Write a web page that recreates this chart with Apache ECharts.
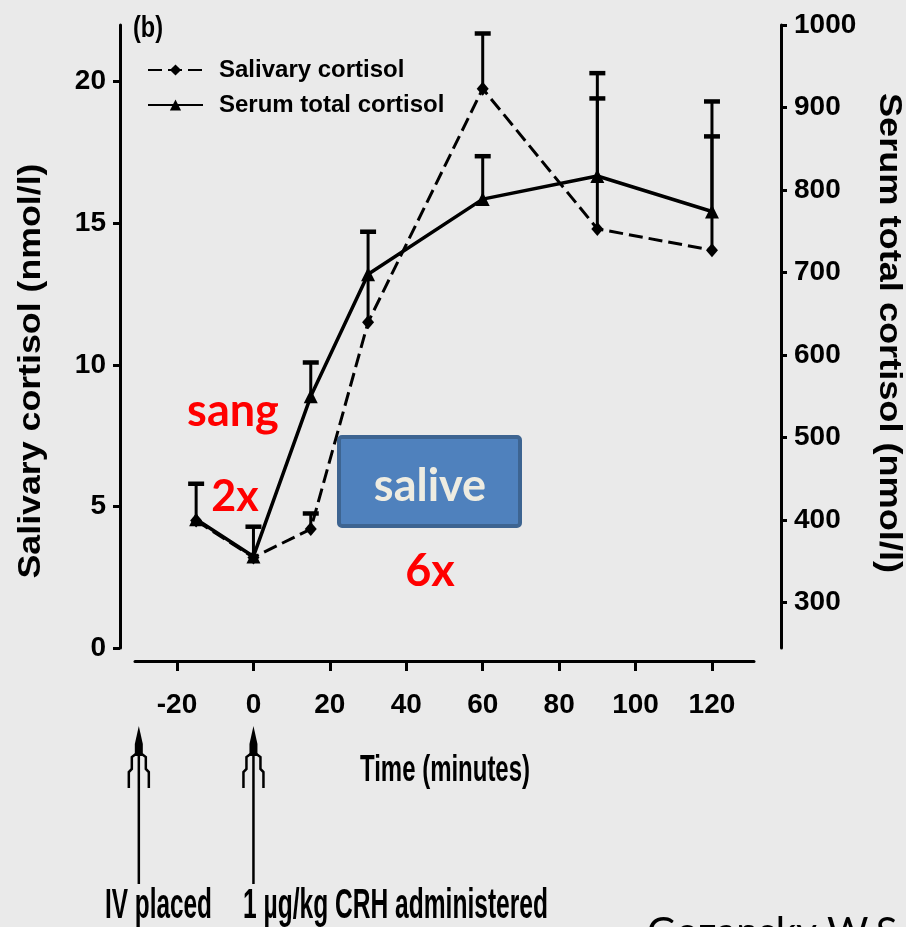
<!DOCTYPE html>
<html>
<head>
<meta charset="utf-8">
<title>Salivary and serum cortisol after CRH</title>
<style>
  html, body { margin: 0; padding: 0; background: #eaeaea; }
  #chart { width: 906px; height: 927px; }
</style>
<script src="https://cdn.jsdelivr.net/npm/echarts@6/dist/echarts.min.js"></script>
</head>
<body>
<div id="chart"></div>
<script>
// Sampling times (minutes relative to CRH injection)
const times = [-15, 0, 15, 30, 60, 90, 120];

// Salivary cortisol, nmol/l (mean and top of the error bar)
const salivaryMean  = [4.5, 3.2, 4.2, 11.5, 19.75, 14.8, 14.05];
const salivaryUpper = [5.8, null, 4.75, 14.7, 21.7, 20.3, 19.3];

// Serum total cortisol, nmol/l (mean and top of the error bar)
const serumMean  = [401, 356, 550, 698, 789, 817, 774];
const serumUpper = [null, 392, 591, null, 841, 911, 865];

// Tick labels
const timeTicks     = [-20, 0, 20, 40, 60, 80, 100, 120];
const salivaryTicks = [0, 5, 10, 15, 20];
const serumTicks    = [300, 400, 500, 600, 700, 800, 900, 1000];

// Protocol events shown under the time axis
const eventTimes  = [-30, 0];
const eventLabels = ['IV placed', '1 \u00b5g/kg CRH administered'];

const baseFont  = "'Liberation Sans',Arial,sans-serif";
const annotFont = "Lato,'Open Sans',sans-serif";

function pairs(xs, ys) {
  return xs.map((x, i) => [x, ys[i]]);
}
function barData(xs, lo, hi) {
  return xs.map((x, i) => [x, lo[i], hi[i]]).filter(d => d[2] != null);
}

// Upper-only error bar with a flat cap
function errorBar(params, api) {
  const x = api.value(0);
  const lo = api.coord([x, api.value(1)]);
  const hi = api.coord([x, api.value(2)]);
  const half = 8;
  return {
    type: 'group',
    children: [
      { type: 'line', shape: { x1: lo[0], y1: lo[1], x2: hi[0], y2: hi[1] },
        style: { stroke: '#000', lineWidth: 3 } },
      { type: 'line', shape: { x1: hi[0] - half, y1: hi[1], x2: hi[0] + half, y2: hi[1] },
        style: { stroke: '#000', lineWidth: 4.5 } }
    ]
  };
}

const axisText = {
  color: '#000', fontFamily: baseFont, fontSize: 28, fontWeight: 'bold',
  formatter: v => String(v)
};

const chart = echarts.init(document.getElementById('chart'), null, { renderer: 'canvas' });

const option = {
  backgroundColor: '#eaeaea',
  animation: false,
  grid: { left: 135, right: 152, top: 25, bottom: 279, outerBoundsMode: 'none' },
  legend: {
    orient: 'vertical',
    left: 142,
    top: 50,
    itemWidth: 55,
    itemHeight: 14,
    itemGap: 5,
    data: ['Salivary cortisol', 'Serum total cortisol'],
    textStyle: {
      color: '#000', fontFamily: baseFont, fontSize: 24, fontWeight: 'bold',
      lineHeight: 30, padding: [0, 0, 0, 11]
    }
  },
  xAxis: {
    type: 'value',
    min: -31,
    max: 131,
    offset: 13,
    splitLine: { show: false },
    axisLine: { show: true, onZero: false, lineStyle: { color: '#000', width: 3 } },
    axisTick: { show: true, customValues: timeTicks, length: 10, lineStyle: { color: '#000', width: 3 } },
    axisLabel: Object.assign({ customValues: timeTicks, margin: 30 }, axisText)
  },
  yAxis: [
    {
      type: 'value',
      position: 'left',
      min: 0,
      max: 22,
      offset: 15,
      splitLine: { show: false },
      axisLine: { show: true, onZero: false, lineStyle: { color: '#000', width: 3 } },
      axisTick: { show: true, customValues: salivaryTicks, length: 7, lineStyle: { color: '#000', width: 3 } },
      axisLabel: Object.assign({ customValues: salivaryTicks, margin: 14 }, axisText)
    },
    {
      type: 'value',
      position: 'right',
      min: 245,
      max: 1000,
      offset: 27,
      splitLine: { show: false },
      axisLine: { show: true, onZero: false, lineStyle: { color: '#000', width: 3 } },
      axisTick: { show: true, customValues: serumTicks, length: 6, lineStyle: { color: '#000', width: 3 } },
      axisLabel: Object.assign({ customValues: serumTicks, margin: 13 }, axisText)
    }
  ],
  series: [
    {
      name: 'Salivary cortisol',
      type: 'line',
      yAxisIndex: 0,
      data: pairs(times, salivaryMean),
      symbol: 'diamond',
      symbolSize: [12, 14],
      lineStyle: { color: '#000', width: 3, type: [14, 6] },
      itemStyle: { color: '#000' },
      z: 3
    },
    {
      name: 'Serum total cortisol',
      type: 'line',
      yAxisIndex: 1,
      data: pairs(times, serumMean),
      symbol: 'triangle',
      symbolSize: 14,
      lineStyle: { color: '#000', width: 3.5 },
      itemStyle: { color: '#000' },
      z: 3
    },
    {
      type: 'custom',
      yAxisIndex: 0,
      renderItem: errorBar,
      encode: { x: 0, y: [1, 2] },
      data: barData(times, salivaryMean, salivaryUpper),
      z: 2
    },
    {
      type: 'custom',
      yAxisIndex: 1,
      renderItem: errorBar,
      encode: { x: 0, y: [1, 2] },
      data: barData(times, serumMean, serumUpper),
      z: 2
    }
  ]
};

chart.setOption(option);

// Narrow caption text: the font size sets the letter height and the
// run is squeezed along its reading direction to the wanted length.
const measureCtx = document.createElement('canvas').getContext('2d');
function caption(text, x, y, size, length, opts) {
  opts = opts || {};
  const font = 'bold ' + size + 'px ' + baseFont;
  measureCtx.font = font;
  const natural = measureCtx.measureText(text).width;
  return {
    type: 'text',
    x: x, y: y,
    rotation: opts.rotation || 0,
    scaleX: length / natural,
    style: {
      text: text,
      fill: '#000',
      font: font,
      align: opts.align || 'center',
      verticalAlign: 'middle'
    }
  };
}

// Event arrow pointing up at the time axis
function eventArrow(px) {
  const top = 726, bottom = 884;
  return {
    type: 'group',
    children: [
      { type: 'line', shape: { x1: px, y1: top + 10, x2: px, y2: bottom },
        style: { stroke: '#000', lineWidth: 2.5 } },
      { type: 'polygon',
        shape: { points: [[px, top], [px + 4, top + 18], [px + 4, top + 30], [px - 4, top + 30], [px - 4, top + 18]] },
        style: { fill: '#000' } },
      { type: 'polyline',
        shape: { points: [[px - 3, top + 28], [px - 7, top + 31], [px - 7, top + 43], [px - 10, top + 46], [px - 10, top + 62]] },
        style: { stroke: '#000', lineWidth: 2.5, fill: null } },
      { type: 'polyline',
        shape: { points: [[px + 3, top + 28], [px + 7, top + 31], [px + 7, top + 43], [px + 10, top + 46], [px + 10, top + 62]] },
        style: { stroke: '#000', lineWidth: 2.5, fill: null } }
    ]
  };
}

const eventPx = eventTimes.map(t => chart.convertToPixel({ xAxisIndex: 0 }, t));

const graphics = [
  caption('(b)', 148, 29, 30, 30),
  caption('Salivary cortisol (nmol/l)', 31, 371, 32, 415, { rotation: Math.PI / 2 }),
  caption('Serum total cortisol (nmol/l)', 889, 333, 32, 480, { rotation: -Math.PI / 2 }),
  caption('Time (minutes)', 445, 771, 36, 170),
  caption(eventLabels[0], 105, 906, 42, 107, { align: 'left' }),
  caption(eventLabels[1], 243, 906, 42, 305, { align: 'left' }),
  eventArrow(eventPx[0]),
  eventArrow(eventPx[1]),
  // Highlighted notes on the response
  { type: 'text', x: 233, y: 411,
    style: { text: 'sang', fill: '#ff0000', font: 'bold 45px ' + annotFont, align: 'center', verticalAlign: 'middle' } },
  { type: 'text', x: 235, y: 497,
    style: { text: '2x', fill: '#ff0000', font: 'bold 43px ' + annotFont, align: 'center', verticalAlign: 'middle' } },
  { type: 'text', x: 430, y: 571,
    style: { text: '6x', fill: '#ff0000', font: 'bold 45px ' + annotFont, align: 'center', verticalAlign: 'middle' } },
  { type: 'rect', shape: { x: 339, y: 437, width: 181, height: 89, r: 3 },
    style: { fill: '#4f81bd', stroke: '#3d6491', lineWidth: 4 } },
  { type: 'text', x: 430, y: 486,
    style: { text: 'salive', fill: '#eeece1', font: 'bold 45px ' + annotFont, align: 'center', verticalAlign: 'middle' } },
  { type: 'text', x: 647, y: 913,
    style: { text: 'Gozansky W.S', fill: '#000', font: '40px ' + annotFont, align: 'left', verticalAlign: 'top' } }
];

chart.setOption({ graphic: graphics });
</script>
</body>
</html>
